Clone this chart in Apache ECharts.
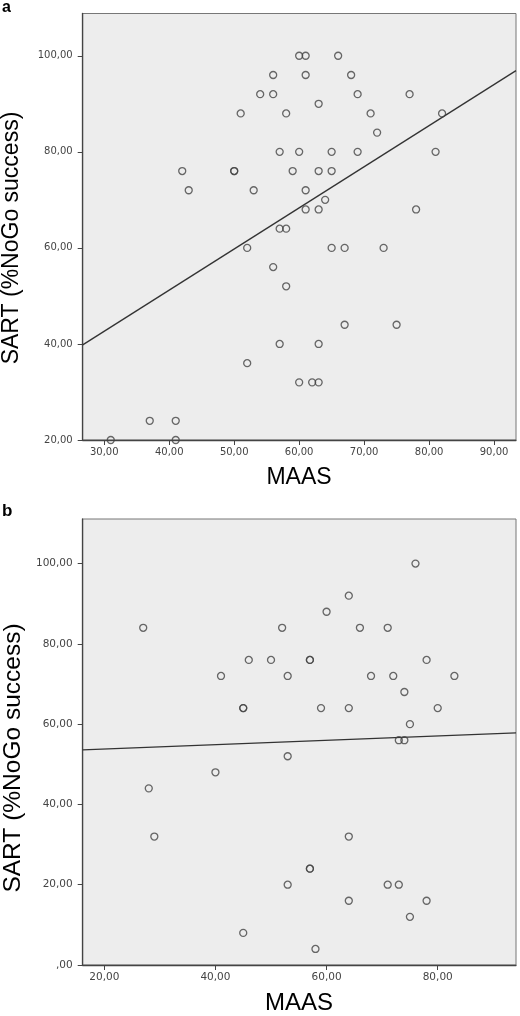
<!DOCTYPE html>
<html>
<head>
<meta charset="utf-8">
<script src="https://cdn.jsdelivr.net/npm/echarts@6/dist/echarts.min.js"></script>
<style>
html,body{margin:0;padding:0;background:#fff;}
#chart{width:520px;height:1016px;}
</style>
</head>
<body>
<div id="chart"></div>
<script>
// ---- Panel a data (MAAS, SART %NoGo success) ----
const pointsA = [
  [31,20],[37,24],[41,24],[41,20],
  [52,36],[57,40],[63,40],[67,44],[75,44],[60,32],[62,32],[63,32],
  [58,52],[56,56],
  [52,60],[65,60],[67,60],[73,60],
  [57,64],[58,64],
  [61,68],[63,68],[78,68],
  [64,70],
  [43,72],[53,72],[61,72],
  [42,76],[50,76],[50,76],[59,76],[63,76],[65,76],
  [57,80],[60,80],[65,80],[69,80],[81,80],
  [72,84],
  [51,88],[58,88],[71,88],[82,88],
  [63,90],
  [54,92],[56,92],[69,92],[77,92],
  [56,96],[61,96],[68,96],
  [60,100],[61,100],[66,100]
];
const fitA = [[26.68,39.8],[93.38,96.9]];
const xRangeA = [26.68, 93.38];
const yRangeA = [20, 108.8];
const xTicksA = [30,40,50,60,70,80,90];
const yTicksA = [20,40,60,80,100];

// ---- Panel b data ----
const pointsB = [
  [27,84],[76,100],[64,92],[60,88],[52,84],[66,84],[71,84],
  [46,76],[50,76],[57,76],[57,76],[78,76],
  [41,72],[53,72],[68,72],[72,72],[83,72],
  [74,68],
  [45,64],[45,64],[59,64],[64,64],[80,64],
  [75,60],[73,56],[74,56],[53,52],[40,48],[28,44],[29,32],[64,32],
  [57,24],[57,24],[53,20],[71,20],[73,20],[64,16],[78,16],[75,12],[45,8],[58,4]
];
const fitB = [[16.11,53.6],[94.09,57.8]];
const xRangeB = [16.11, 94.09];
const yRangeB = [0, 111.1];
const xTicksB = [20,40,60,80];
const yTicksB = [0,20,40,60,80,100];

const xTitle = 'MAAS';
const yTitle = 'SART (%NoGo success)';
const panelLabels = ['a','b'];

function fmt(v){
  const s = Number(v).toFixed(2).replace('.', ',');
  return s.startsWith('0,') ? s.slice(1) : s;
}

const chart = echarts.init(document.getElementById('chart'), null, {renderer:'canvas'});

function xAxisCfg(gi, range, ticks, fs){
  return {
    type:'value', gridIndex:gi, min:range[0], max:range[1],
    splitLine:{show:false},
    axisLine:{show:true, onZero:false, lineStyle:{color:'#444', width:1.3}},
    axisTick:{show:true, length:5, customValues:ticks, lineStyle:{color:'#444'}},
    axisLabel:{show:true, customValues:ticks, formatter:fmt, margin:7,
      color:'#444', fontFamily:'DejaVu Sans', fontSize:fs}
  };
}
function yAxisCfg(gi, range, ticks, fs){
  return {
    type:'value', gridIndex:gi, min:range[0], max:range[1],
    splitLine:{show:false},
    axisLine:{show:true, onZero:false, lineStyle:{color:'#444', width:1.3}},
    axisTick:{show:true, length:5, customValues:ticks, lineStyle:{color:'#444'}},
    axisLabel:{show:true, customValues:ticks, formatter:fmt, margin:10,
      color:'#444', fontFamily:'DejaVu Sans', fontSize:fs}
  };
}

const scatterStyle = {color:'rgba(0,0,0,0)', borderColor:'#444', borderWidth:1.3};

const option = {
  animation:false,
  backgroundColor:'#fff',
  grid:[
    {left:82.7, top:13.5, width:433.3, height:426.5, show:true, backgroundColor:'#ededed', borderColor:'#777', borderWidth:1},
    {left:82.7, top:519, width:433.3, height:446, show:true, backgroundColor:'#ededed', borderColor:'#777', borderWidth:1}
  ],
  xAxis:[ xAxisCfg(0, xRangeA, xTicksA, 10), xAxisCfg(1, xRangeB, xTicksB, 10.5) ],
  yAxis:[ yAxisCfg(0, yRangeA, yTicksA, 10), yAxisCfg(1, yRangeB, yTicksB, 10.5) ],
  series:[
    {type:'line', xAxisIndex:0, yAxisIndex:0, data:fitA, symbol:'none', silent:true,
      lineStyle:{color:'#333', width:1.3}, z:2},
    {type:'scatter', xAxisIndex:0, yAxisIndex:0, data:pointsA, symbol:'circle', symbolSize:7,
      itemStyle:scatterStyle, z:3},
    {type:'line', xAxisIndex:1, yAxisIndex:1, data:fitB, symbol:'none', silent:true,
      lineStyle:{color:'#333', width:1.3}, z:2},
    {type:'scatter', xAxisIndex:1, yAxisIndex:1, data:pointsB, symbol:'circle', symbolSize:7,
      itemStyle:scatterStyle, z:3}
  ],
  graphic:[
    {type:'text', left:2, top:0, style:{text:panelLabels[0], font:'bold 16px "Liberation Sans"', fill:'#000'}},
    {type:'text', left:2, top:503, style:{text:panelLabels[1], font:'bold 17px "Liberation Sans"', fill:'#000'}},
    {type:'text', x:12, y:238, rotation:Math.PI/2,
      style:{text:yTitle, font:'23px "Liberation Sans"', fill:'#000', textAlign:'center', textVerticalAlign:'middle'}},
    {type:'text', x:13, y:758, rotation:Math.PI/2,
      style:{text:yTitle, font:'24.5px "Liberation Sans"', fill:'#000', textAlign:'center', textVerticalAlign:'middle'}},
    {type:'text', x:299, y:478, style:{text:xTitle, font:'23px "Liberation Sans"', fill:'#000', textAlign:'center', textVerticalAlign:'middle'}},
    {type:'text', x:299, y:1003, style:{text:xTitle, font:'24px "Liberation Sans"', fill:'#000', textAlign:'center', textVerticalAlign:'middle'}}
  ]
};
chart.setOption(option);
</script>
</body>
</html>
